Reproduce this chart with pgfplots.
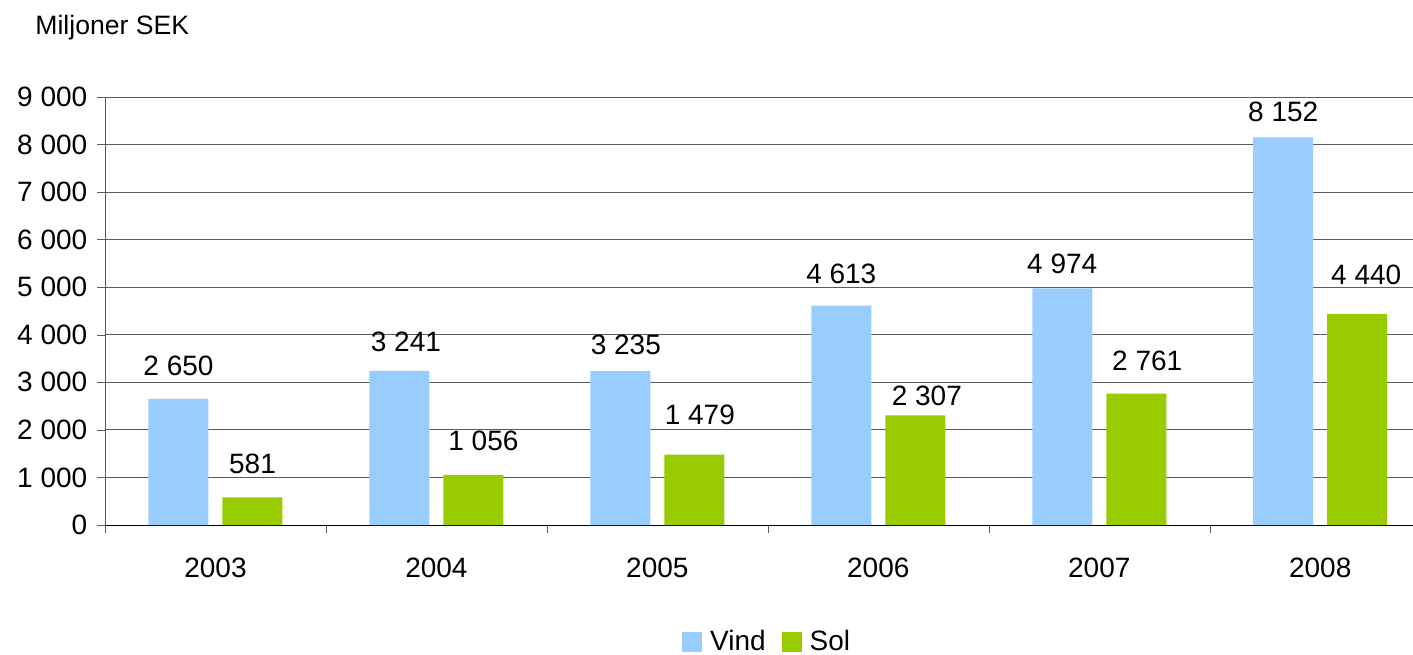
\documentclass[border=0pt]{standalone}
\usepackage{fontspec}
\setmainfont{Liberation Sans}
\usepackage{pgfplots}
\pgfplotsset{compat=1.18}
\definecolor{vind}{HTML}{99CCFF}
\definecolor{sol}{HTML}{99CC00}
\definecolor{gridgray}{HTML}{5A5A5A}
\pgfplotsset{sqlegend/.style={legend image code/.code={\fill[##1] (0pt,-5pt) rectangle (10pt,5pt);}}}
% x = category, y = value, dx/dy = label offsets (pt)
\pgfplotstableread{
x y dx dy
0 2650 0 6.6
1 3241 3.25 4.6
2 3235 2.75 3.1
3 4613 0 6.1
4 4974 0 2.6
5 8152 0 3.1
}\vind
\pgfplotstableread{
x y dx dy
0 581 0 6.85
1 1056 5 7.35
2 1479 2.75 10.1
3 2307 5.75 0.1
4 2761 5.5 6.35
5 4440 4.5 9.6
}\sol
\begin{document}
\fontsize{14}{16}\selectfont
\begin{tikzpicture}
\begin{axis}[
  scale only axis,
  width=654pt, height=214pt,
  xmin=-0.5, xmax=5.42,
  ymin=0, ymax=9000,
  ybar=7pt,
  bar width=30pt,
  axis x line*=bottom,
  axis y line*=left,
  x axis line style={black, -},
  y axis line style={gridgray, -},
  xtick={0,1,2,3,4,5},
  xticklabels={2003,2004,2005,2006,2007,2008},
  minor xtick={-0.5,0.5,1.5,2.5,3.5,4.5},
  major x tick style={draw=none},
  minor tick length=4pt,
  major tick length=4pt,
  tick align=outside,
  ytick={0,1000,...,9000},
  ymajorgrids,
  grid style={gridgray, line width=0.5pt},
  y tick style={gridgray},
  minor x tick style={gridgray},
  /pgf/number format/1000 sep={\ },
  /pgf/number format/assume math mode=true,
  tick label style={font=\fontsize{14}{16}\selectfont},
  xticklabel style={yshift=-7.5pt},
  nodes near coords,
  visualization depends on={\thisrow{dx} \as \dx},
  visualization depends on={\thisrow{dy} \as \dy},
  every node near coord/.append style={font=\fontsize{14}{16}\selectfont, black,
    xshift=\dx pt, yshift=\dy pt},
  legend style={at={(axis description cs:0.507,0)}, anchor=center, yshift=-58.5pt,
    draw=none, legend columns=-1, font=\fontsize{14}{16}\selectfont,
    /tikz/every odd column/.append style={column sep=2pt},
    /tikz/every even column/.append style={column sep=6pt}},
]
\addplot[fill=vind, draw=none, sqlegend] table[x=x, y=y] {\vind};
\addplot[fill=sol, draw=none, sqlegend] table[x=x, y=y] {\sol};
\legend{Vind,Sol}
\end{axis}
\node[anchor=west, inner sep=0pt, font=\fontsize{13.3}{16}\selectfont] at (-35pt,248.5pt) {Miljoner SEK};
\pgfresetboundingbox
\useasboundingbox (-52.5pt,-64.5pt) rectangle (654pt,262.5pt);
\end{tikzpicture}
\end{document}
